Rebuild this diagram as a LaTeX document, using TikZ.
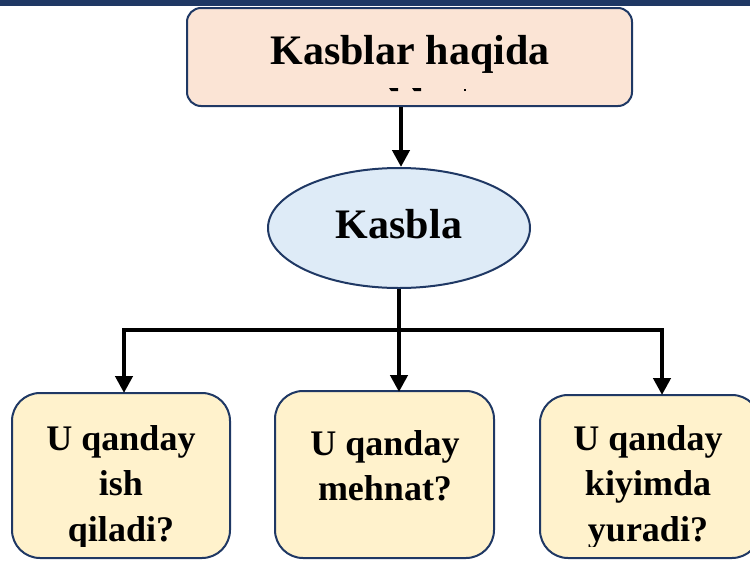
\documentclass[tikz,border=0pt]{standalone}
\usepackage{fontspec}
\setmainfont{Liberation Serif}
\usetikzlibrary{shapes.geometric,arrows.meta}
\definecolor{navy}{HTML}{1F3864}
\definecolor{peach}{HTML}{FBE4D5}
\definecolor{lblue}{HTML}{DEEBF7}
\definecolor{cream}{HTML}{FFF2CC}
\tikzset{
  boxstyle/.style={draw=navy, line width=2pt, rounded corners=28pt, fill=cream, inner sep=0pt},
  conn/.style={line width=4.5pt, black},
  arr/.style={line width=4.5pt, black, -{Triangle[length=17pt,width=17pt]}},
  bigtxt/.style={font=\bfseries\fontsize{42}{50}\selectfont, inner sep=0pt, anchor=base},
  smalltxt/.style={font=\bfseries\fontsize{36}{46}\selectfont, inner sep=0pt, anchor=base},
}
\begin{document}
\begin{tikzpicture}[x=1pt,y=-1pt]
\useasboundingbox (0,0) rectangle (750,560);
\clip (0,0) rectangle (750,560);
% top band
\fill[navy] (0,0) rectangle (750,6);
% top box
\node[draw=navy, line width=2pt, rounded corners=14pt, fill=peach, minimum width=445pt, minimum height=98pt, inner sep=0pt] (top) at (409.5,57) {};
\node[bigtxt] (toptxt) at (410,64) {Kasblar haqida};
% clipped second line fragments
\fill[black] (389,88) -- (398,88) -- (398,91) -- (391,91) -- cycle;
\fill[black] (412,88) -- (421,88) -- (421,91) -- (414,91) -- cycle;
\fill[black] (464,89) rectangle (466,91);
% ellipse
\node[ellipse, draw=navy, line width=2pt, fill=lblue, minimum width=262pt, minimum height=120pt, inner sep=0pt] (ell) at (399,228) {};
\node[bigtxt] (elltxt) at (399,238) {Kasbla};
% bottom boxes
\node[boxstyle, minimum width=218pt, minimum height=165pt] (b1) at (121,475.5) {};
\node[boxstyle, minimum width=219pt, minimum height=167pt] (b2) at (384.5,474.5) {};
\node[boxstyle, minimum width=220pt, minimum height=163pt] (b3) at (650,476.5) {};
\begin{scope}
\clip (0,380) rectangle (750,546);
\node[smalltxt] (l1a) at (121,450) {U qanday};
\node[smalltxt] (l1b) at (121,495) {ish};
\node[smalltxt] (l1c) at (121,541) {qiladi?};
\node[smalltxt] (l2a) at (385,455) {U qanday};
\node[smalltxt] (l2b) at (385,500) {mehnat?};
\node[smalltxt] (l3a) at (648,450) {U qanday};
\node[smalltxt] (l3b) at (648,495) {kiyimda};
\node[smalltxt] (l3c) at (648,541) {yuradi?};
\end{scope}
% connectors
\coordinate (c1) at (124,330);
\coordinate (c2) at (399,330);
\coordinate (c3) at (662,330);
\coordinate (t1) at (124,393);
\coordinate (t2) at (399,392);
\coordinate (t3) at (662,395);
\draw[arr] (top.south -| 401,0) -- (ell.north -| 401,0);
\draw[conn, line cap=rect] (c1) -- (c3);
\draw[conn] (ell.south) -- (c2);
\draw[arr] (c1) -- (t1);
\draw[arr] (c2) -- (t2);
\draw[arr] (c3) -- (t3);
\end{tikzpicture}
\end{document}
